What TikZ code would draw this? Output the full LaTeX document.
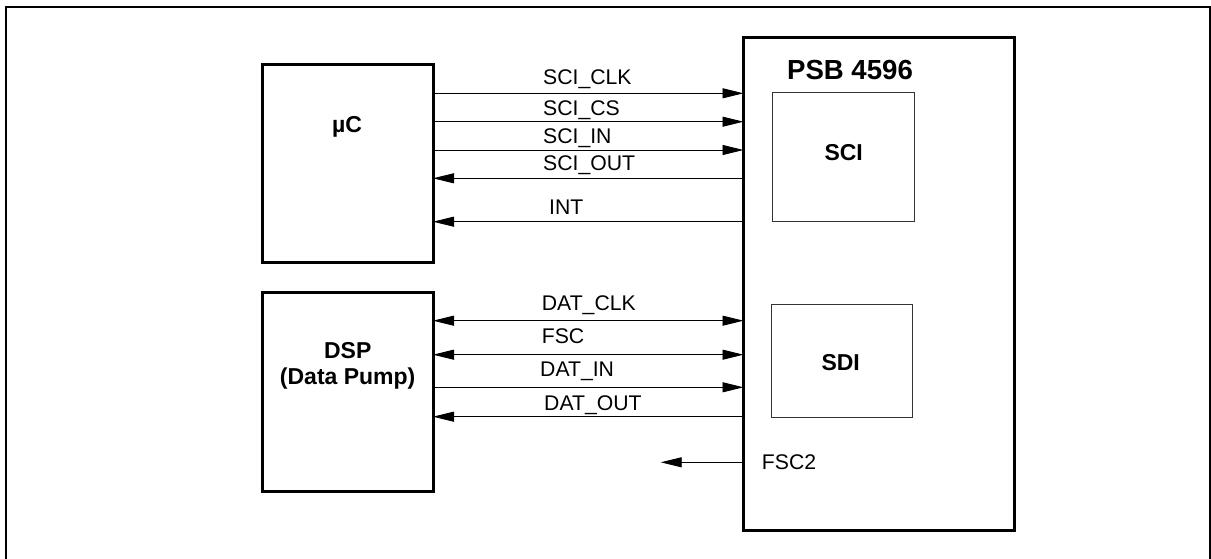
\documentclass[tikz,border=0pt]{standalone}
\usepackage{fontspec}
\setmainfont{Liberation Sans}
\usetikzlibrary{arrows.meta}
\begin{document}
\begin{tikzpicture}[x=1pt,y=-1pt,
  blk/.style={draw,line width=3pt,outer sep=0pt,inner sep=0pt},
  sub/.style={draw=black!80,line width=1pt,outer sep=0pt,inner sep=0pt},
  btxt/.style={font=\bfseries\fontsize{23}{27}\selectfont,inner sep=0pt,align=center},
  stxt/.style={font=\fontsize{21.2}{24}\selectfont,inner sep=0pt,anchor=west},
  sig/.style={line width=0.9pt},
  tip/.tip={Triangle[length=21pt,width=10pt]}]
\useasboundingbox (0,0) rectangle (1211,559);
% outer frame
\draw[line width=2pt] (6,559) -- (6,7.5) -- (1210,7.5) -- (1210,559);
% blocks
\node[blk,minimum width=170.3pt,minimum height=197pt] (uc) at (347.85,163.5) {};
\node[blk,minimum width=170.3pt,minimum height=199pt] (dsp) at (347.85,391.5) {};
\node[blk,minimum width=270.5pt,minimum height=492pt] (psb) at (878.75,284) {};
\node[sub,minimum width=142pt,minimum height=128pt] (sci) at (843,157) {};
\node[sub,minimum width=141pt,minimum height=113pt] (sdi) at (841.5,360.5) {};
% block texts
\node[btxt] (tuc) at (347,127) {µC};
\node[btxt] (tdsp) at (347.7,366) {DSP\\[-1pt](Data Pump)};
\node[btxt,font=\bfseries\fontsize{27.6}{32}\selectfont] (tpsb) at (850,70) {PSB 4596};
\node[btxt] (tsci) at (843.7,153) {SCI};
\node[btxt] (tsdi) at (840.7,363) {SDI};
% signal y-levels
\coordinate (y1) at (0,93.3);
\coordinate (y2) at (0,121.7);
\coordinate (y3) at (0,150);
\coordinate (y4) at (0,178.3);
\coordinate (y5) at (0,221.7);
\coordinate (y6) at (0,320.7);
\coordinate (y7) at (0,354.7);
\coordinate (y8) at (0,387.3);
\coordinate (y9) at (0,416.7);
\coordinate (y10) at (0,462.3);
\coordinate (fscend) at (660.7,462.3);
% connectors
\draw[sig,-tip] (uc.east |- y1) -- (psb.west |- y1);
\draw[sig,-tip] (uc.east |- y2) -- (psb.west |- y2);
\draw[sig,-tip] (uc.east |- y3) -- (psb.west |- y3);
\draw[sig,tip-] (uc.east |- y4) -- (psb.west |- y4);
\draw[sig,tip-] (uc.east |- y5) -- (psb.west |- y5);
\draw[sig,tip-tip] (dsp.east |- y6) -- (psb.west |- y6);
\draw[sig,tip-tip] (dsp.east |- y7) -- (psb.west |- y7);
\draw[sig,-tip] (dsp.east |- y8) -- (psb.west |- y8);
\draw[sig,tip-] (dsp.east |- y9) -- (psb.west |- y9);
\draw[sig,-tip] (psb.west |- y10) -- (fscend);
% signal labels
\node[stxt] (l1) at (543,79) {SCI\_CLK};
\node[stxt] (l2) at (543,110) {SCI\_CS};
\node[stxt] (l3) at (543,138.3) {SCI\_IN};
\node[stxt] (l4) at (543,165.3) {SCI\_OUT};
\node[stxt] (l5) at (549,207.3) {INT};
\node[stxt] (l6) at (541.7,305) {DAT\_CLK};
\node[stxt] (l7) at (541.7,336.7) {FSC};
\node[stxt] (l8) at (540,371.7) {DAT\_IN};
\node[stxt] (l9) at (544,405) {DAT\_OUT};
\node[stxt] (l10) at (761.7,462.3) {FSC2};
\end{tikzpicture}
\end{document}
